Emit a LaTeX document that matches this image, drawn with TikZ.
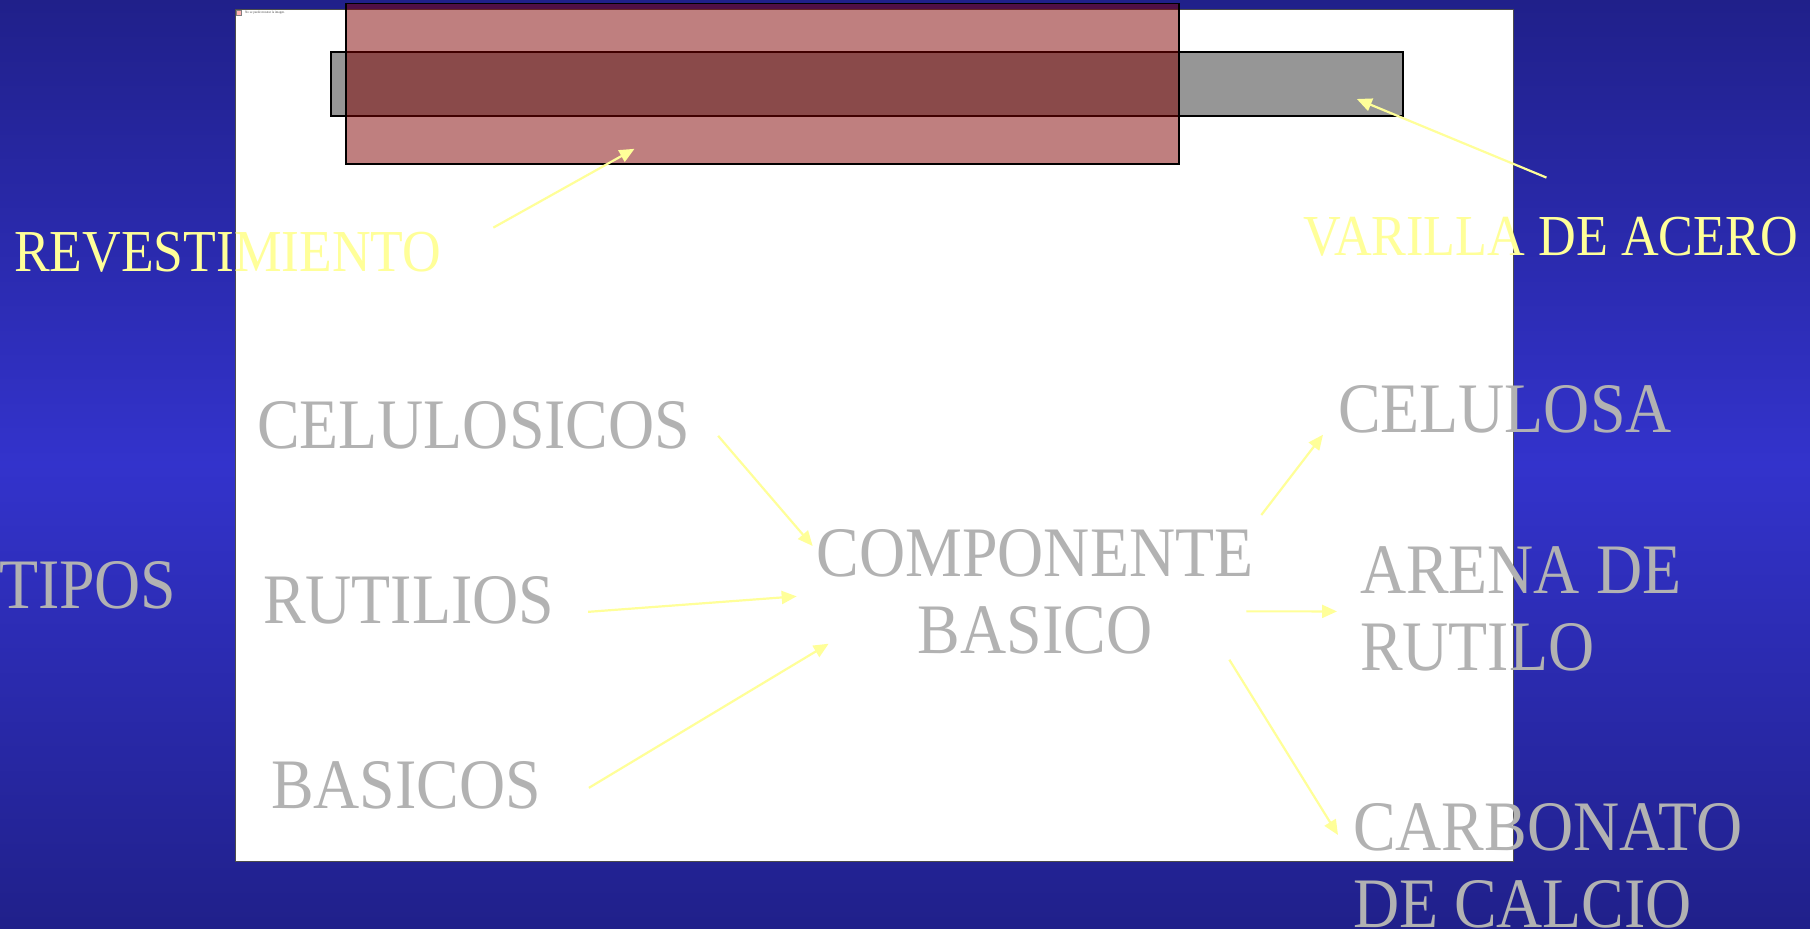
\documentclass[tikz,border=0pt]{standalone}
\usepackage{fontspec}
\setmainfont{Liberation Serif}[FakeStretch=0.9]
\usetikzlibrary{arrows.meta}
\definecolor{fondo}{HTML}{3333CC}
\definecolor{fondoosc}{HTML}{20208A}
\definecolor{amarillo}{HTML}{FFFF99}
\definecolor{gristxt}{HTML}{B2B2B2}
\definecolor{colacero}{HTML}{969696}
\definecolor{granate}{HTML}{800000}
\begin{document}
\begin{tikzpicture}[x=1pt,y=-1pt,
    gris/.style={text=gristxt,font=\fontsize{71}{77}\selectfont,inner sep=0pt,outer sep=0pt},
    amar/.style={text=amarillo,inner sep=0pt,outer sep=0pt},
    flecha/.style={amarillo,line width=2.2pt,-{Triangle[length=15pt,width=13pt]}}]
    \useasboundingbox (0,0) rectangle (1810,929);
    \shade[top color=fondoosc,bottom color=fondoosc,middle color=fondo] (0,0) rectangle (1810,929);
    \draw[fill=white,draw=black!70,line width=0.8pt] (235,9) rectangle (1513,861);
    % imagen que falta
    \node (icono) [draw=black!50,fill=red!30,line width=0.3pt,minimum size=5pt,inner sep=0pt] at (239,13) {};
    \node (aviso) [anchor=west,inner sep=0pt,font=\fontsize{3.5}{4}\selectfont,text=black!70] at (245,13) {No se puede mostrar la imagen.};
    % electrodo
    \node (acero) [draw=black,line width=1.6pt,fill=colacero,minimum width=1072pt,minimum height=64pt,inner sep=0pt] at (867,84) {};
    \node (capa) [draw=black,line width=1.6pt,fill=granate,fill opacity=0.5,minimum width=833pt,minimum height=160.5pt,inner sep=0pt] at (762.5,83.75) {};
    \node (lblcapa) [amar,font=\fontsize{59.5}{65}\selectfont,anchor=base west] at (14,271) {REVESTIMIENTO};
    \node (lblacero) [amar,font=\fontsize{58}{64}\selectfont,anchor=base west] at (1303,255) {VARILLA DE ACERO};
    \draw[flecha] ([shift={(52,-4)}]lblcapa.north east) -- ([shift={(-128,-16)}]capa.south);
    \draw[flecha] ([shift={(-4,-39)}]lblacero.north) -- ([shift={(-47,15)}]acero.east);
    % tipos
    \node (tipos) [gris,anchor=base west] at (-1,608) {TIPOS};
    \node (celulosicos) [gris,anchor=base west] at (257,448) {CELULOSICOS};
    \node (rutilios) [gris,anchor=base west] at (263,623) {RUTILIOS};
    \node (basicos) [gris,anchor=base west] at (271,808) {BASICOS};
    \node (comp) [gris,align=center,anchor=base] at (1035,653) {COMPONENTE\\BASICO};
    \node (celulosa) [gris,anchor=base west] at (1338,432) {CELULOSA};
    \node (arena) [gris,align=left,anchor=base west] at (1360,670) {ARENA DE\\RUTILO};
    \node (carbonato) [gris,align=left,anchor=base west] at (1353,927) {CARBONATO\\DE CALCIO};
    \draw[flecha] ([shift={(28,11)}]celulosicos.east) -- ([shift={(-4,17)}]comp.north west);
    \draw[flecha] ([shift={(34,12)}]rutilios.east) -- ([shift={(-20,5)}]comp.west);
    \draw[flecha] ([shift={(48,3)}]basicos.east) -- ([shift={(12,-10)}]comp.south west);
    \draw[flecha] ([shift={(8,-14)}]comp.north east) -- ([shift={(-15,2)}]celulosa.south west);
    \draw[flecha] ([shift={(-7,20)}]comp.east) -- ([shift={(-23,3)}]arena.west);
    \draw[flecha] ([shift={(-24,6)}]comp.south east) -- ([shift={(-15,32)}]carbonato.north west);
\end{tikzpicture}
\end{document}
